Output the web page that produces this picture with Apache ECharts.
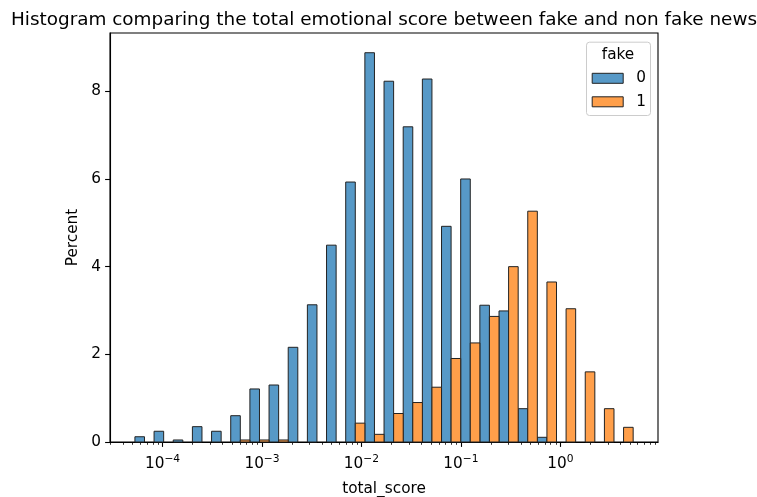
<!DOCTYPE html>
<html>
<head>
<meta charset="utf-8">
<script src="https://cdn.jsdelivr.net/npm/echarts@6/dist/echarts.min.js"></script>
<style>
html,body{margin:0;padding:0;background:#fff;}
#chart{width:757px;height:497px;}
</style>
</head>
<body>
<div id="chart"></div>
<script>
// Histogram bins (log10 of total_score)
const binStartLog = -4.278;
const binWidthLog = 0.1927;
const binCount = 26;
// Percent per bin, fake = 0 (blue) and fake = 1 (orange)
const fake0 = [0.12, 0.245, 0.046, 0.35, 0.245, 0.60, 1.21, 1.30, 2.16, 3.13, 4.49, 5.93, 8.88, 8.23, 7.19, 8.28, 4.92, 6.00, 3.12, 2.99, 0.76, 0.107, 0, 0, 0, 0];
const fake1 = [0, 0, 0, 0, 0, 0.046, 0.046, 0.046, 0, 0, 0, 0.43, 0.175, 0.65, 0.90, 1.25, 1.905, 2.26, 2.865, 4.00, 5.265, 3.65, 3.04, 1.60, 0.76, 0.335];
const seriesNames = ['0', '1'];
const majorTicksLog = [-4, -3, -2, -1, 0];
const yTicks = [0, 2, 4, 6, 8];

const xMin = -4.5285, xMax = 0.982, yMax = 9.33;
const colors = ['#5799c7', '#ff9f4a'];
const edge = '#222222';

function buildData(vals, half) {
  const out = [];
  for (let i = 0; i < binCount; i++) {
    if (!vals[i]) continue;
    const b0 = binStartLog + i * binWidthLog;
    const x0 = b0 + half * binWidthLog / 2;
    out.push([x0, x0 + binWidthLog / 2, vals[i]]);
  }
  return out;
}

const minorTicks = [];
for (let n = -6; n <= 1; n++) {
  for (let k = 2; k <= 9; k++) {
    const v = n + Math.log10(k);
    if (v > xMin && v < xMax) minorTicks.push(v);
  }
}

function renderBar(color) {
  return function (params, api) {
    const p0 = api.coord([api.value(0), 0]);
    const p1 = api.coord([api.value(1), api.value(2)]);
    return {
      type: 'rect',
      shape: { x: p0[0], y: p1[1], width: p1[0] - p0[0], height: p0[1] - p1[1] },
      style: { fill: color, stroke: edge, lineWidth: 1 }
    };
  };
}

const sup = { '-4': '−4', '-3': '−3', '-2': '−2', '-1': '−1', '0': '0' };
const font = 'DejaVu Sans';
const fs = 15.3;

const chart = echarts.init(document.getElementById('chart'), null, { renderer: 'canvas' });
chart.setOption({
  animation: false,
  backgroundColor: '#fff',
  title: {
    text: 'Histogram comparing the total emotional score between fake and non fake news',
    left: 384, textAlign: 'center', top: 11, padding: 0,
    textStyle: { fontFamily: font, fontSize: 18.4, fontWeight: 'normal', color: '#000' }
  },
  grid: { left: 110, right: 99, top: 33, bottom: 55, show: true, borderColor: '#000', borderWidth: 1.1, backgroundColor: 'transparent', outerBoundsMode: 'none', containLabel: false },
  legend: {
    orient: 'vertical', left: 591.7, top: 70.8, padding: 0, z: 10,
    itemWidth: 31, itemHeight: 10, itemGap: 8.5,
    icon: 'rect',
    textStyle: { fontFamily: font, fontSize: fs, color: '#000', lineHeight: 15, padding: [0, 0, 0, 8] },
    data: seriesNames.map((n, i) => ({ name: n, itemStyle: { color: colors[i], borderColor: edge, borderWidth: 1 } }))
  },
  graphic: [
    { type: 'rect', left: 586, top: 41.7, z: 1, shape: { width: 64, height: 73.3, r: 3 }, style: { fill: 'rgba(255,255,255,0.8)', stroke: '#cccccc', lineWidth: 1 } },
    { type: 'text', x: 618, y: 55.5, z: 2, style: { text: 'fake', fontFamily: font, fontSize: fs, fill: '#000', align: 'center', verticalAlign: 'middle' } }
  ],
  xAxis: [
    {
      type: 'value', min: xMin, max: xMax, position: 'bottom',
      name: 'total_score', nameLocation: 'middle', nameGap: 40,
      nameTextStyle: { fontFamily: font, fontSize: fs, color: '#000' },
      axisLine: { show: true, onZero: false, lineStyle: { color: '#000', width: 1.1 } },
      axisTick: { show: true, length: 4.9, lineStyle: { color: '#000', width: 1.1 }, customValues: majorTicksLog },
      splitLine: { show: false },
      axisLabel: {
        customValues: majorTicksLog, margin: 12,
        formatter: v => '{b|10}{s|' + sup[String(Math.round(v))] + '}',
        rich: {
          b: { fontFamily: font, fontSize: fs, color: '#000', verticalAlign: 'bottom', lineHeight: 18 },
          s: { fontFamily: font, fontSize: 10.7, color: '#000', verticalAlign: 'top', lineHeight: 18, padding: [0, 0, 6, 0] }
        }
      }
    },
    {
      type: 'value', min: xMin, max: xMax, position: 'bottom', gridIndex: 0,
      axisLine: { show: false, onZero: false },
      axisTick: { show: true, length: 2.8, lineStyle: { color: '#000', width: 0.8 }, customValues: minorTicks },
      axisLabel: { show: false },
      splitLine: { show: false }
    }
  ],
  yAxis: {
    type: 'value', min: 0, max: yMax, interval: 2,
    name: 'Percent', nameLocation: 'middle', nameGap: 21, nameRotate: 90,
    nameTextStyle: { fontFamily: font, fontSize: fs, color: '#000' },
    axisLine: { show: true, onZero: false, lineStyle: { color: '#000', width: 1.1 } },
    axisTick: { show: true, length: 4.9, lineStyle: { color: '#000', width: 1.1 }, customValues: yTicks },
    axisLabel: { fontFamily: font, fontSize: fs, color: '#000', margin: 9, customValues: yTicks },
    splitLine: { show: false }
  },
  series: [
    { name: seriesNames[0], type: 'custom', xAxisIndex: 0, renderItem: renderBar(colors[0]), itemStyle: { color: colors[0] }, encode: { x: [0, 1], y: 2 }, data: buildData(fake0, 0) },
    { name: seriesNames[1], type: 'custom', xAxisIndex: 0, renderItem: renderBar(colors[1]), itemStyle: { color: colors[1] }, encode: { x: [0, 1], y: 2 }, data: buildData(fake1, 1) }
  ]
});
</script>
</body>
</html>
